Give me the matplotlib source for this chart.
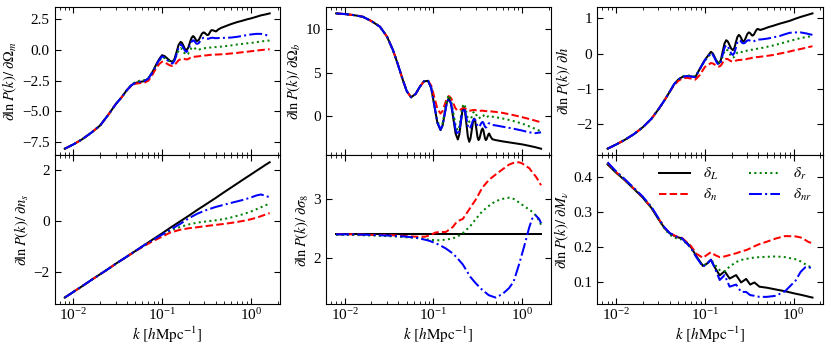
"""
Derivatives of ln P(k) with respect to cosmological parameters,
for the linear field and three transformed fields.
"""

import matplotlib.pyplot as plt

# ---- data ------------------------------------------------------------------

# d lnP / d Omega_m
k_om = [0.008, 0.01, 0.0125, 0.016, 0.02, 0.025, 0.03, 0.035, 0.04, 0.045,
        0.05, 0.056, 0.063, 0.07, 0.078, 0.087, 0.0935,
        0.1, 0.107, 0.1145, 0.1225, 0.131, 0.1381, 0.1457, 0.1536, 0.162,
        0.1681, 0.1745, 0.1811, 0.188, 0.1962, 0.2048, 0.2137, 0.223,
        0.2292, 0.2356, 0.2422, 0.249, 0.2593, 0.2701, 0.2813, 0.293,
        0.3011, 0.3095, 0.3181, 0.327, 0.3357, 0.3445, 0.3537, 0.363,
        0.3733, 0.3839, 0.3948, 0.406,
        0.43, 0.46, 0.52, 0.6, 0.7, 0.8, 0.9, 1.0, 1.15, 1.3, 1.45, 1.63]
om_L = [-8.05, -7.7, -7.29, -6.73, -6.16, -5.24, -4.42, -3.85, -3.28, -2.87,
        -2.68, -2.6, -2.54, -2.32, -1.78, -1.1, -0.7,
        -0.42, -0.5, -0.69, -0.88, -0.96, -0.72, -0.15, 0.43, 0.67,
        0.57, 0.33, 0.09, -0.01, 0.16, 0.57, 0.97, 1.14,
        1.08, 0.94, 0.79, 0.73, 0.83, 1.09, 1.34, 1.44,
        1.41, 1.33, 1.25, 1.22, 1.28, 1.43, 1.57, 1.63,
        1.61, 1.58, 1.54, 1.52,
        1.68, 1.8, 1.95, 2.12, 2.28, 2.39, 2.5, 2.58, 2.71, 2.83, 2.9, 2.99]
om_n = [-8.05, -7.7, -7.29, -6.73, -6.16, -5.24, -4.42, -3.85, -3.28, -2.92,
        -2.75, -2.7, -2.67, -2.5, -2.0, -1.4, -1.12,
        -0.95, -1.0, -1.13, -1.25, -1.3, -1.22, -1.03, -0.83, -0.75,
        -0.72, -0.7, -0.74, -0.77, -0.74, -0.66, -0.58, -0.55,
        -0.55, -0.54, -0.53, -0.52, -0.51, -0.49, -0.46, -0.45,
        -0.44, -0.44, -0.43, -0.42, -0.41, -0.4, -0.39, -0.39,
        -0.39, -0.38, -0.37, -0.37,
        -0.36, -0.35, -0.32, -0.28, -0.23, -0.18, -0.14, -0.1, -0.05, 0.0,
        0.03, 0.07]
om_r = [-8.05, -7.7, -7.29, -6.73, -6.16, -5.24, -4.42, -3.85, -3.28, -2.82,
        -2.6, -2.5, -2.45, -2.28, -1.8, -1.2, -0.85,
        -0.6, -0.66, -0.8, -0.94, -1.0, -0.83, -0.43, -0.02, 0.15,
        0.07, -0.13, -0.32, -0.4, -0.31, -0.08, 0.16, 0.25,
        0.21, 0.13, 0.04, 0.0, 0.02, 0.08, 0.13, 0.15,
        0.15, 0.16, 0.17, 0.17, 0.18, 0.2, 0.21, 0.22,
        0.22, 0.23, 0.24, 0.24,
        0.26, 0.28, 0.32, 0.38, 0.45, 0.5, 0.55, 0.58, 0.64, 0.7, 0.74, 0.78]
om_nr = [-8.05, -7.7, -7.29, -6.73, -6.16, -5.24, -4.42, -3.85, -3.28, -2.87,
         -2.68, -2.6, -2.54, -2.33, -1.82, -1.15, -0.78,
         -0.52, -0.6, -0.81, -1.02, -1.1, -0.87, -0.33, 0.22, 0.45,
         0.36, 0.15, -0.06, -0.15, -0.01, 0.33, 0.66, 0.8,
         0.76, 0.65, 0.54, 0.5, 0.57, 0.75, 0.93, 1.0,
         0.99, 0.96, 0.93, 0.92, 0.93, 0.96, 0.99, 1.0,
         1.0, 0.99, 0.97, 0.97,
         0.98, 0.98, 1.0, 1.02, 1.08, 1.15, 1.22, 1.27, 1.32, 1.32, 1.25, 1.13]

# d lnP / d Omega_b
k_ob = [0.008, 0.01, 0.0125, 0.016, 0.02, 0.025, 0.03, 0.035, 0.04, 0.045,
        0.05, 0.056, 0.063, 0.07, 0.078, 0.087,
        0.0943, 0.1022, 0.1107, 0.12, 0.1267, 0.1337, 0.1412, 0.149,
        0.1579, 0.1674, 0.1774, 0.188, 0.1953, 0.2029, 0.2108, 0.219,
        0.227, 0.2354, 0.244, 0.253, 0.2613, 0.2699, 0.2788, 0.288,
        0.2962, 0.3045, 0.3131, 0.322, 0.3304, 0.339, 0.3479, 0.357,
        0.3648, 0.3726, 0.3807, 0.389, 0.3975, 0.4061, 0.4149, 0.424,
        0.44, 0.46, 0.5, 0.6, 0.77, 1.0, 1.19, 1.4, 1.63]
ob_L = [11.86, 11.78, 11.67, 11.47, 10.97, 10.31, 9.15, 7.6, 5.85, 4.2,
        2.85, 2.15, 2.55, 3.35, 4.0, 4.05,
        3.22, 1.2, -0.82, -1.65, -1.11, 0.22, 1.54, 2.08,
        1.38, -0.33, -2.03, -2.73, -2.18, -0.85, 0.49, 1.04,
        0.45, -0.98, -2.41, -3.0, -2.61, -1.66, -0.7, -0.31,
        -0.67, -1.56, -2.44, -2.8, -2.6, -2.13, -1.66, -1.46,
        -1.66, -2.13, -2.6, -2.8, -2.69, -2.42, -2.15, -2.04,
        -2.4, -2.7, -2.8, -2.95, -3.12, -3.3, -3.46, -3.62, -3.8]
ob_n = [11.86, 11.78, 11.67, 11.47, 10.97, 10.31, 9.15, 7.6, 5.85, 4.2,
        2.85, 2.15, 2.55, 3.35, 4.0, 4.05,
        3.5, 2.16, 0.82, 0.27, 0.57, 1.29, 2.0, 2.3,
        2.05, 1.45, 0.85, 0.6, 0.64, 0.75, 0.86, 0.9,
        0.86, 0.75, 0.64, 0.6, 0.61, 0.64, 0.67, 0.68,
        0.67, 0.63, 0.59, 0.58, 0.58, 0.59, 0.6, 0.6,
        0.59, 0.58, 0.56, 0.55, 0.55, 0.55, 0.54, 0.54,
        0.52, 0.5, 0.46, 0.35, 0.12, -0.15, -0.35, -0.55, -0.75]
ob_r = [11.86, 11.78, 11.67, 11.47, 10.97, 10.31, 9.15, 7.6, 5.85, 4.2,
        2.85, 2.15, 2.55, 3.35, 4.0, 4.05,
        3.25, 1.33, -0.6, -1.4, -0.85, 0.5, 1.85, 2.4,
        1.8, 0.35, -1.1, -1.7, -1.25, -0.15, 0.95, 1.4,
        1.09, 0.35, -0.39, -0.7, -0.52, -0.1, 0.32, 0.5,
        0.38, 0.1, -0.18, -0.3, -0.24, -0.1, 0.04, 0.1,
        0.06, -0.05, -0.16, -0.2, -0.17, -0.1, -0.03, 0.0,
        -0.08, -0.1, -0.15, -0.3, -0.55, -0.9, -1.2, -1.5, -1.8]
ob_nr = [11.86, 11.78, 11.67, 11.47, 10.97, 10.31, 9.15, 7.6, 5.85, 4.2,
         2.85, 2.15, 2.55, 3.35, 4.0, 4.05,
         3.22, 1.23, -0.77, -1.6, -1.07, 0.2, 1.47, 2.0,
         1.39, -0.1, -1.59, -2.2, -1.75, -0.65, 0.45, 0.9,
         0.55, -0.3, -1.15, -1.5, -1.33, -0.93, -0.52, -0.35,
         -0.49, -0.83, -1.16, -1.3, -1.21, -1.0, -0.79, -0.7,
         -0.79, -1.03, -1.26, -1.35, -1.28, -1.1, -0.92, -0.85,
         -0.95, -1.05, -1.1, -1.25, -1.45, -1.7, -1.9, -2.0, -1.9]

# d lnP / d h
k_h = [0.008, 0.01, 0.0125, 0.016, 0.02, 0.025, 0.03, 0.035, 0.04, 0.045,
       0.05, 0.056, 0.063, 0.07, 0.078, 0.087, 0.1,
       0.117, 0.1233, 0.13, 0.1371, 0.1445, 0.1514, 0.1586, 0.1661, 0.174,
       0.1817, 0.1898, 0.1982, 0.207, 0.2151, 0.2236, 0.2324, 0.2415,
       0.2488, 0.2563, 0.264, 0.272, 0.2815, 0.2913, 0.3015, 0.312,
       0.3202, 0.3286, 0.3372, 0.346, 0.3572, 0.3688, 0.3807, 0.393,
       0.42, 0.46, 0.52, 0.59, 0.7, 0.8, 0.906, 1.05, 1.2, 1.4, 1.63]
h_L = [-2.7, -2.58, -2.45, -2.28, -2.09, -1.85, -1.58, -1.33, -1.09, -0.87,
       -0.74, -0.66, -0.64, -0.65, -0.67, -0.45, -0.18,
       0.05, 0.0, -0.12, -0.23, -0.28, -0.18, 0.05, 0.28, 0.38,
       0.34, 0.24, 0.14, 0.1, 0.16, 0.32, 0.47, 0.53,
       0.5, 0.44, 0.37, 0.34, 0.38, 0.47, 0.56, 0.6,
       0.59, 0.56, 0.52, 0.51, 0.54, 0.61, 0.67, 0.7,
       0.67, 0.7, 0.75, 0.79, 0.85, 0.89, 0.93, 0.99, 1.04, 1.09, 1.14]
h_n = [-2.7, -2.58, -2.45, -2.28, -2.09, -1.85, -1.58, -1.33, -1.09, -0.9,
       -0.78, -0.7, -0.69, -0.71, -0.74, -0.62, -0.38,
       -0.27, -0.28, -0.32, -0.36, -0.37, -0.34, -0.26, -0.18, -0.15,
       -0.16, -0.19, -0.22, -0.23, -0.22, -0.2, -0.19, -0.18,
       -0.18, -0.18, -0.17, -0.17, -0.16, -0.16, -0.15, -0.14,
       -0.14, -0.13, -0.12, -0.12, -0.11, -0.11, -0.1, -0.1,
       -0.09, -0.08, -0.06, -0.04, 0.0, 0.03, 0.06, 0.1, 0.13, 0.17, 0.21]
h_r = [-2.7, -2.58, -2.45, -2.28, -2.09, -1.85, -1.58, -1.33, -1.09, -0.87,
       -0.74, -0.64, -0.62, -0.63, -0.65, -0.46, -0.2,
       0.0, -0.04, -0.14, -0.23, -0.27, -0.21, -0.08, 0.06, 0.12,
       0.08, 0.0, -0.08, -0.12, -0.09, -0.03, 0.03, 0.06,
       0.06, 0.05, 0.04, 0.04, 0.05, 0.07, 0.09, 0.1,
       0.1, 0.1, 0.11, 0.11, 0.12, 0.12, 0.13, 0.14,
       0.15, 0.17, 0.2, 0.23, 0.28, 0.32, 0.36, 0.4, 0.44, 0.47, 0.5]
h_nr = [-2.7, -2.58, -2.45, -2.28, -2.09, -1.85, -1.58, -1.33, -1.09, -0.87,
        -0.74, -0.66, -0.64, -0.65, -0.67, -0.45, -0.19,
        0.02, -0.03, -0.15, -0.27, -0.32, -0.24, -0.04, 0.16, 0.24,
        0.2, 0.1, 0.0, -0.04, 0.02, 0.17, 0.32, 0.38,
        0.37, 0.34, 0.3, 0.29, 0.3, 0.34, 0.37, 0.38,
        0.37, 0.36, 0.35, 0.34, 0.35, 0.37, 0.39, 0.4,
        0.4, 0.41, 0.43, 0.46, 0.5, 0.55, 0.59, 0.6, 0.6, 0.57, 0.53]

# d lnP / d n_s
k_ns = [0.008, 0.01, 0.0125, 0.016, 0.02, 0.025, 0.03, 0.04, 0.05, 0.063,
        0.08, 0.1, 0.125, 0.16, 0.2, 0.25, 0.32, 0.4, 0.5, 0.63,
        0.8, 1.0, 1.15, 1.3, 1.45, 1.63]
ns_L = [-2.98, -2.76, -2.54, -2.29, -2.07, -1.85, -1.66, -1.38, -1.16, -0.93,
        -0.69, -0.47, -0.24, 0.0, 0.22, 0.45, 0.69, 0.91, 1.14, 1.37,
        1.61, 1.83, 1.97, 2.09, 2.2, 2.31]
ns_n = [-2.98, -2.76, -2.54, -2.29, -2.07, -1.85, -1.66, -1.38, -1.17, -0.96,
        -0.76, -0.6, -0.43, -0.33, -0.27, -0.23, -0.18, -0.14, -0.1, -0.05,
        0.01, 0.08, 0.14, 0.2, 0.26, 0.32]
ns_r = [-2.98, -2.76, -2.54, -2.29, -2.07, -1.85, -1.66, -1.38, -1.16, -0.93,
        -0.7, -0.52, -0.35, -0.22, -0.12, -0.05, 0.0, 0.04, 0.09, 0.17,
        0.27, 0.38, 0.47, 0.55, 0.62, 0.7]
ns_nr = [-2.98, -2.76, -2.54, -2.29, -2.07, -1.85, -1.66, -1.38, -1.16, -0.93,
         -0.71, -0.52, -0.32, -0.1, 0.12, 0.3, 0.45, 0.56, 0.65, 0.74,
         0.83, 0.93, 1.01, 1.05, 1.0, 0.94]

# d lnP / d sigma_8
k_s8 = [0.008, 0.012, 0.02, 0.03, 0.04, 0.05, 0.064, 0.08, 0.09, 0.105,
        0.117, 0.138, 0.164, 0.185, 0.214, 0.26, 0.3, 0.355, 0.42, 0.5,
        0.6, 0.71, 0.8, 0.92, 1.0, 1.09, 1.2, 1.3, 1.42, 1.55,
        1.63]
s8_L = [2.4] * len(k_s8)
s8_n = [2.4, 2.4, 2.39, 2.39, 2.38, 2.37, 2.36, 2.36, 2.38, 2.43,
        2.44, 2.44, 2.52, 2.62, 2.66, 2.85, 2.99, 3.19, 3.32, 3.41,
        3.5, 3.58, 3.61, 3.62, 3.6, 3.56, 3.52, 3.45, 3.38, 3.29,
        3.23]
s8_r = [2.39, 2.39, 2.38, 2.37, 2.36, 2.35, 2.34, 2.32, 2.31, 2.3,
        2.3, 2.31, 2.33, 2.36, 2.42, 2.54, 2.66, 2.79, 2.88, 2.96,
        3.0, 3.02, 3.0, 2.94, 2.9, 2.86, 2.82, 2.78, 2.72, 2.63,
        2.56]
s8_nr = [2.4, 2.4, 2.39, 2.38, 2.37, 2.36, 2.34, 2.31, 2.29, 2.25,
         2.22, 2.16, 2.08, 2.0, 1.89, 1.68, 1.57, 1.46, 1.37, 1.33,
         1.39, 1.49, 1.6, 1.89, 2.08, 2.28, 2.52, 2.67, 2.72, 2.66,
         2.59]

# d lnP / d M_nu
k_mnu = [0.008, 0.01, 0.0125, 0.016, 0.02, 0.025, 0.03, 0.035, 0.04, 0.045,
         0.05, 0.055, 0.063, 0.07, 0.08, 0.095, 0.105, 0.117, 0.13, 0.147,
         0.167, 0.19, 0.225, 0.256, 0.292, 0.324, 0.362, 0.411, 0.5, 0.63,
         0.8, 1.05, 1.2, 1.35, 1.45, 1.63]
mnu_L = [0.436, 0.412, 0.391, 0.365, 0.341, 0.312, 0.28, 0.255, 0.24, 0.233,
         0.228, 0.226, 0.212, 0.2, 0.175, 0.147, 0.153, 0.164, 0.142, 0.12,
         0.132, 0.111, 0.121, 0.1, 0.11, 0.094, 0.1, 0.088, 0.085, 0.08,
         0.075, 0.068, 0.065, 0.062, 0.06, 0.057]
mnu_n = [0.44, 0.414, 0.392, 0.366, 0.342, 0.313, 0.282, 0.256, 0.241, 0.234,
         0.229, 0.227, 0.214, 0.203, 0.182, 0.17, 0.178, 0.186, 0.178, 0.172,
         0.174, 0.178, 0.183, 0.188, 0.192, 0.197, 0.203, 0.209, 0.216, 0.225,
         0.232, 0.231, 0.228, 0.221, 0.216, 0.211]
mnu_r = [0.44, 0.414, 0.392, 0.366, 0.342, 0.312, 0.28, 0.254, 0.236, 0.228,
         0.224, 0.222, 0.209, 0.198, 0.174, 0.147, 0.153, 0.165, 0.15, 0.135,
         0.132, 0.145, 0.158, 0.164, 0.167, 0.169, 0.171, 0.172, 0.173, 0.174,
         0.172, 0.166, 0.16, 0.152, 0.147, 0.142]
mnu_nr = [0.442, 0.416, 0.394, 0.368, 0.344, 0.315, 0.283, 0.257, 0.241, 0.234,
          0.228, 0.226, 0.21, 0.198, 0.172, 0.145, 0.152, 0.165, 0.14, 0.107,
          0.121, 0.088, 0.094, 0.073, 0.073, 0.064, 0.062, 0.059, 0.059, 0.062,
          0.075, 0.105, 0.13, 0.143, 0.145, 0.138]

# axis labels and ticks
ylabels = [r'$\partial \ln P(k)/\ \partial \Omega_m$',
           r'$\partial \ln P(k)/\ \partial \Omega_b$',
           r'$\partial \ln P(k)/\ \partial h$',
           r'$\partial \ln P(k)/\ \partial n_s$',
           r'$\partial \ln P(k)/\ \partial \sigma_8$',
           r'$\partial \ln P(k)/\ \partial M_\nu$']
yticks = [[-7.5, -5.0, -2.5, 0.0, 2.5],
          [0, 5, 10],
          [-2, -1, 0, 1],
          [-2, 0, 2],
          [2, 3],
          [0.1, 0.2, 0.3, 0.4]]
xlabel = r'$k\ [h\mathrm{Mpc}^{-1}]$'
field_labels = [r'$\delta_L$', r'$\delta_n$', r'$\delta_r$', r'$\delta_{nr}$']


def panel_data():
    """Collect (k, [L, n, r, nr]) for every panel, row by row."""
    return [
        (k_om, [om_L, om_n, om_r, om_nr]),
        (k_ob, [ob_L, ob_n, ob_r, ob_nr]),
        (k_h, [h_L, h_n, h_r, h_nr]),
        (k_ns, [ns_L, ns_n, ns_r, ns_nr]),
        (k_s8, [s8_L, s8_n, s8_r, s8_nr]),
        (k_mnu, [mnu_L, mnu_n, mnu_r, mnu_nr]),
    ]


def render(output_path='out.png'):
    plt.rcParams['font.family'] = ['Liberation Serif', 'DejaVu Serif']
    plt.rcParams['mathtext.fontset'] = 'stix'
    plt.rcParams['font.size'] = 10

    fig, axes = plt.subplots(2, 3, figsize=(8.31, 3.49), dpi=100, sharex=True)
    fig.subplots_adjust(left=0.0656, right=0.990, top=0.981, bottom=0.128,
                        hspace=0.0, wspace=0.204)

    styles = [('k', '-'), ('r', '--'), ('g', ':'), ('b', '-.')]

    for i, (ax, (k, series)) in enumerate(zip(axes.flat, panel_data())):
        for y, (c, ls), lab in zip(series, styles, field_labels):
            ax.plot(k, y, color=c, ls=ls, lw=1.45, label=lab,
                    solid_joinstyle='round', dash_joinstyle='round')
        ax.set_xscale('log')
        ax.set_yticks(yticks[i])
        ax.set_ylabel(ylabels[i], fontsize=10.5, labelpad=2)
        ax.tick_params(which='both', direction='in', top=True, right=True,
                       labelsize=11)
        ax.tick_params(axis='x', pad=2)
        ax.tick_params(which='major', length=4.5, width=0.8)
        ax.tick_params(which='minor', length=2.5, width=0.6)
        if i >= 3:
            ax.set_xlabel(xlabel, fontsize=11, labelpad=1)

    axes[1, 2].legend(ncol=2, loc='upper right', frameon=False, fontsize=11,
                      handlelength=2.0, columnspacing=2.0, handletextpad=0.9,
                      borderaxespad=0.3, labelspacing=0.3)

    fig.savefig(output_path, dpi=100)
    plt.close(fig)


if __name__ == "__main__":
    render()
